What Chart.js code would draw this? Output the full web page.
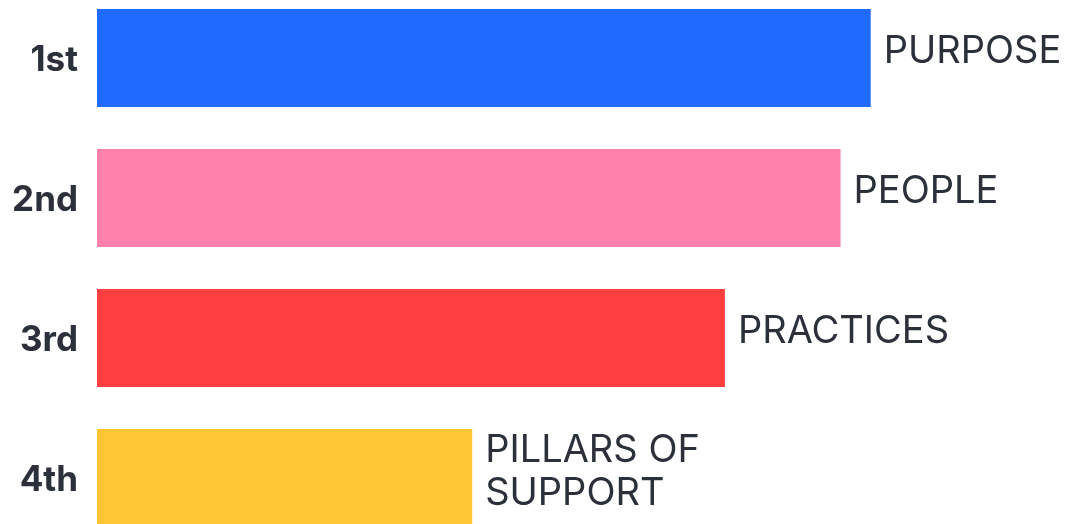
<!DOCTYPE html>
<html>
<head>
<meta charset="utf-8">
<script src="https://cdn.jsdelivr.net/npm/chart.js@4/dist/chart.umd.min.js"></script>
<style>
  html, body { margin: 0; padding: 0; overflow: hidden; background: #fff; }
  #chart { position: absolute; left: 0; top: -12px; }
</style>
</head>
<body>
<canvas id="chart" width="1069" height="560"></canvas>
<script>
// Ranks, scores and the names shown next to each bar
const ranks = ['1st', '2nd', '3rd', '4th'];
const scores = [79.6, 76.5, 64.6, 38.6];
const barNames = [['PURPOSE'], ['PEOPLE'], ['PRACTICES'], ['PILLARS OF', 'SUPPORT']];
const barColors = ['#1f6bff', '#ff80ab', '#ff3f3f', '#ffc533'];

const textColor = '#2b303b';

// draws the name to the right of each bar
const barNamePlugin = {
    id: 'barNames',
    afterDatasetsDraw(chart) {
        const ctx = chart.ctx;
        const meta = chart.getDatasetMeta(0);
        ctx.save();
        ctx.font = '400 38px Inter';
        ctx.fillStyle = textColor;
        ctx.textAlign = 'left';
        ctx.textBaseline = 'middle';
        const lineHeight = 43;
        meta.data.forEach((bar, i) => {
            const lines = barNames[i];
            const startY = bar.y - 6 - (lines.length - 1) * lineHeight / 2;
            lines.forEach((line, j) => {
                ctx.fillText(line, bar.x + 13, startY + j * lineHeight);
            });
        });
        ctx.restore();
    }
};

new Chart(document.getElementById('chart'), {
    type: 'bar',
    data: {
        labels: ranks,
        datasets: [{
            data: scores,
            backgroundColor: barColors,
            borderWidth: 0,
            barPercentage: 0.7,
            categoryPercentage: 1
        }]
    },
    options: {
        indexAxis: 'y',
        responsive: false,
        animation: false,
        layout: { padding: 0 },
        plugins: {
            legend: { display: false },
            tooltip: { enabled: false }
        },
        scales: {
            x: {
                display: false,
                min: 0,
                max: 100
            },
            y: {
                grid: { display: false, drawTicks: false },
                border: { display: false },
                ticks: {
                    padding: 19,
                    labelOffset: 2,
                    color: textColor,
                    font: { family: 'Inter', size: 35, weight: '700' }
                },
                afterFit(scale) {
                    scale.width = 97;
                    scale.paddingTop = 0;
                    scale.paddingBottom = 0;
                }
            }
        }
    },
    plugins: [barNamePlugin]
});
</script>
</body>
</html>
